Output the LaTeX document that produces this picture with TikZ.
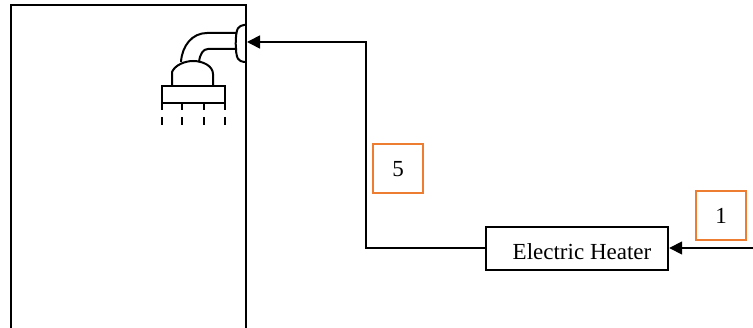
\documentclass[tikz,border=0pt]{standalone}
\usepackage{fontspec}
\setmainfont{Liberation Serif}
\usetikzlibrary{arrows.meta}
\definecolor{tagorange}{RGB}{237,125,49}
\tikzset{
  x=1pt,y=-1pt,
  wall/.style={draw=black,line width=2pt},
  pipe/.style={draw=black,line width=2pt},
  flow/.style={draw=black,line width=1.6pt,-{Triangle[length=13pt,width=13pt]}},
  heaterbox/.style={draw=black,line width=2.2pt,minimum width=182pt,minimum height=43pt,inner sep=0pt},
  tag/.style={draw=tagorange,line width=2.2pt,minimum width=50pt,minimum height=49pt,inner sep=0pt,font=\fontsize{23}{25}\selectfont},
}
\begin{document}
\begin{tikzpicture}
\useasboundingbox (0,0) rectangle (753,328);
\clip (0,0) rectangle (753,328);
% shower
\draw[pipe,fill=white,rounded corners=4pt] (246,25) -- (240,25) .. controls (235,33) and (235,54) .. (240,62) -- (246,62);
% tank
\draw[wall] (11,340) -- (11,5) -- (246,5) -- (246,340);
\draw[pipe] (237,33) -- (207,33) .. controls (192,33) and (182,46) .. (181,62);
\draw[pipe] (237,49) -- (208,49) .. controls (203,49) and (200,54) .. (199,62);
\draw[pipe] (172,86) -- (172,72) .. controls (175,65) and (185,61) .. (193,61) .. controls (203,61) and (213,66) .. (213,74) -- (213,86);
\draw[pipe] (162,86) rectangle (225,103);
\foreach \tx in {162,182,204,225} {
  \draw[pipe] (\tx,103) -- (\tx,110);
  \draw[pipe] (\tx,117) -- (\tx,125);
}
% heater and tags
\node[heaterbox,anchor=north west] (heater) at (485,226) {};
\node[font=\fontsize{23}{25}\selectfont] (heaterlabel) at (582,252) {Electric Heater};
\node[tag,anchor=north west] (tagfive) at (372,143) {5};
\node[tag,anchor=north west] (tagone) at (695,190) {1};
% connectors
\coordinate (outlet) at (247,42);
\coordinate (supply) at (753,248);
\draw[flow] (heater.west |- supply) -- (366,248) -- (366,42) -- (outlet);
\draw[flow] (supply) -- (heater.east |- supply);
\end{tikzpicture}
\end{document}
